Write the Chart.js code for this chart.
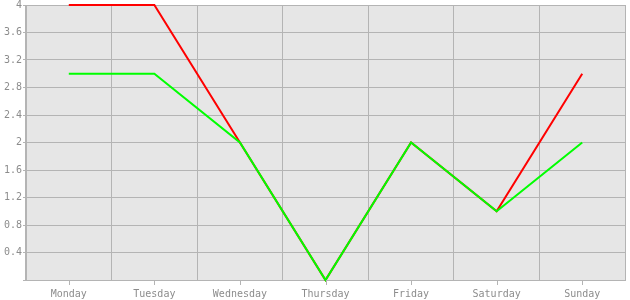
<!DOCTYPE html>
<html lang="en">
<head>
    <meta charset="UTF-8">
    <title>Weekly lines</title>
    <script src="https://cdn.jsdelivr.net/npm/chart.js"></script>
    <style>
        html, body { margin: 0; padding: 0; background: #ffffff; }
    </style>
</head>
<body>
<canvas id="lineChart" width="630" height="300"></canvas>
<script>
    const days = ['Monday', 'Tuesday', 'Wednesday', 'Thursday', 'Friday', 'Saturday', 'Sunday'];
    const redValues = [4, 4, 2, 0, 2, 1, 3];
    const greenValues = [3, 3, 2, 0, 2, 1, 2];

    const gridColor = '#b4b4b4';
    const textColor = '#8c8c8c';
    const monoFont = { family: '"DejaVu Sans Mono", monospace', size: 10 };

    // small tick marks under each day label
    const dayTicks = {
        id: 'dayTicks',
        afterDraw(chart) {
            const ctx = chart.ctx;
            const x = chart.scales.x;
            ctx.save();
            ctx.strokeStyle = gridColor;
            ctx.lineWidth = 1;
            days.forEach((d, i) => {
                const px = Math.round(x.getPixelForValue(i)) + 0.5;
                ctx.beginPath();
                ctx.moveTo(px, x.top);
                ctx.lineTo(px, x.top + 5);
                ctx.stroke();
            });
            ctx.restore();
        }
    };

    // grey plot background
    const plotBg = {
        id: 'plotBg',
        beforeDraw(chart) {
            const a = chart.chartArea;
            chart.ctx.save();
            chart.ctx.fillStyle = '#e6e6e6';
            chart.ctx.fillRect(a.left, a.top, a.right - a.left, a.bottom - a.top);
            chart.ctx.restore();
        }
    };

    new Chart(document.getElementById('lineChart'), {
        type: 'line',
        data: {
            labels: days,
            datasets: [
                { data: greenValues, borderColor: '#00ff00', borderWidth: 2, pointRadius: 0, clip: false, order: 1 },
                { data: redValues, borderColor: '#ff0000', borderWidth: 2, pointRadius: 0, clip: false, order: 2 }
            ]
        },
        options: {
            responsive: false,
            animation: false,
            devicePixelRatio: 1,
            layout: { padding: { top: 5, right: 5, left: 0, bottom: 0 } },
            plugins: { legend: { display: false }, tooltip: { enabled: false } },
            scales: {
                x: {
                    offset: true,
                    grid: { offset: true, color: gridColor, drawTicks: false },
                    border: { color: gridColor },
                    ticks: { color: textColor, font: monoFont, padding: 8, maxRotation: 0 },
                    afterFit(scale) { scale.height = 20; }
                },
                y: {
                    min: 0,
                    max: 4,
                    grid: { color: gridColor, tickLength: 3 },
                    border: { color: gridColor },
                    ticks: {
                        stepSize: 0.4,
                        color: textColor,
                        font: monoFont,
                        padding: 1,
                        callback: v => v === 0 ? '' : String(Math.round(v * 10) / 10)
                    },
                    afterFit(scale) {
                        scale.width = 26;
                        scale.paddingTop = 0;
                        scale.paddingBottom = 0;
                    }
                }
            }
        },
        plugins: [plotBg, dayTicks]
    });
</script>
</body>
</html>
